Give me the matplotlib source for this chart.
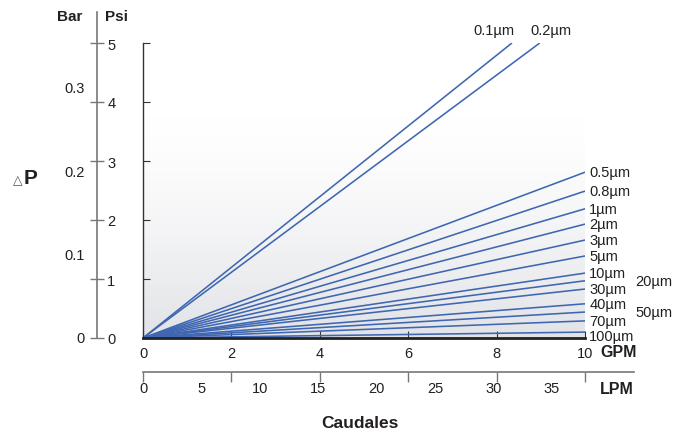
import numpy as np
import matplotlib
matplotlib.use("Agg")
import matplotlib.pyplot as plt
from matplotlib.transforms import blended_transform_factory

plt.rcParams['font.family'] = ['Liberation Sans', 'DejaVu Sans']

# pressure drop (psi) at 10 GPM for each filter rating
filters = ["0.1µm", "0.2µm", "0.5µm", "0.8µm", "1µm", "2µm", "3µm", "5µm",
           "10µm", "20µm", "30µm", "40µm", "50µm", "70µm", "100µm"]
psi_at_10gpm = [5.99, 5.57, 2.81, 2.49, 2.19, 1.93, 1.66, 1.39,
                1.10, 0.97, 0.83, 0.58, 0.44, 0.29, 0.10]

gpm_ticks = [0, 2, 4, 6, 8, 10]
psi_ticks = [0, 1, 2, 3, 4, 5]
bar_ticks = [0, 0.1, 0.2, 0.3]
lpm_ticks = [0, 5, 10, 15, 20, 25, 30, 35]

PSI_PER_BAR = 14.1  # as drawn on the original scale
LPM_PER_GPM = 3.785

W, H = 691, 435
fig = plt.figure(figsize=(W / 100, H / 100), dpi=100)

def box(x0, y0, x1, y1):
    return [x0 / W, 1 - y1 / H, (x1 - x0) / W, (y1 - y0) / H]

line_color = "#3f67b1"
text_color = "#231f20"
fs = 10.5

# main chart
ax = fig.add_axes(box(143, 44, 585, 339))
ax.set_xlim(0, 10)
ax.set_ylim(0, 5)

# soft white-to-grey background
t = np.linspace(0, 1, 512).reshape(-1, 1)
g = np.clip((t - 0.25) / 0.75, 0, 1) ** 1.4
top = np.array([1.0, 1.0, 1.0])
bot = np.array([0.885, 0.89, 0.905])
img = top + (bot - top) * g[..., None]
ax.imshow(img, extent=[0, 10, 0, 5], aspect="auto", origin="upper", zorder=0,
          interpolation="bilinear")

for name, p10 in zip(filters, psi_at_10gpm):
    slope = p10 / 10
    x_end = min(10, 5 / slope)
    y_end = slope * x_end
    ax.plot([0, x_end], [0, y_end], color=line_color, lw=1.15, zorder=2,
            solid_capstyle="butt")
    if x_end < 10:
        if name == "0.1µm":
            ax.annotate(name, (x_end, y_end), xytext=(2, 9), textcoords="offset points",
                        ha="right", va="center", fontsize=fs, color=text_color)
        else:
            ax.annotate(name, (x_end, y_end), xytext=(-7, 9), textcoords="offset points",
                        ha="left", va="center", fontsize=fs, color=text_color)
    else:
        dx = 36 if name in ("20µm", "50µm") else 3
        dy = -3 if name == "100µm" else 0
        ax.annotate(name, (x_end, y_end), xytext=(dx, dy), textcoords="offset points",
                    ha="left", va="center", fontsize=fs, color=text_color,
                    annotation_clip=False)

for s in ["top", "right"]:
    ax.spines[s].set_visible(False)
ax.spines["left"].set_color("#333333")
ax.spines["left"].set_linewidth(1.0)
ax.spines["bottom"].set_color("#222222")
ax.spines["bottom"].set_linewidth(2.0)
ax.set_xticks(gpm_ticks)
ax.set_yticks(psi_ticks, labels=[])
ax.tick_params(axis="both", direction="in", length=5, color="#333333", labelsize=fs,
               labelcolor=text_color)
ax.tick_params(axis="x", pad=6)
ax.text(1.035, -0.045, "GPM", transform=ax.transAxes, ha="left", va="center",
        fontsize=11.5, fontweight="bold", color=text_color)

# left Bar / Psi scale
axl = fig.add_axes(box(97, 13, 97.5, 339))
axl.set_ylim(0, (339 - 13) / 59)
axl.set_xlim(0, 1)
axl.patch.set_visible(False)
for s in ["top", "right", "bottom"]:
    axl.spines[s].set_visible(False)
axl.spines["left"].set_color("#777777")
axl.spines["left"].set_linewidth(1.2)
axl.set_xticks([])
axl.set_yticks(psi_ticks)
axl.tick_params(axis="y", direction="inout", length=10, color="#777777", width=1.0,
                labelleft=False, labelright=True, labelsize=fs, labelcolor=text_color, pad=2)
tr = blended_transform_factory(fig.transFigure, axl.transData)
for b in bar_ticks:
    fig.text(85 / W, b * PSI_PER_BAR, f"{b:g}", transform=tr, ha="right", va="center",
             fontsize=fs, color=text_color)
fig.text(82 / W, 1 - 17 / H, "Bar", ha="right", va="center", fontsize=11,
         fontweight="bold", color=text_color)
fig.text(105 / W, 1 - 17 / H, "Psi", ha="left", va="center", fontsize=11,
         fontweight="bold", color=text_color)
fig.text(23 / W, 1 - 184 / H, "△", ha="right", va="baseline", fontsize=9,
         color="#555555", family=["DejaVu Sans"])
fig.text(24 / W, 1 - 184 / H, "P", ha="left", va="baseline", fontsize=15,
         fontweight="bold", color=text_color)

# bottom LPM scale
axb = fig.add_axes(box(143, 372, 634, 372.5))
axb.set_xlim(0, (634 - 143) / 44.2)
axb.set_ylim(0, 1)
axb.patch.set_visible(False)
for s in ["top", "right", "left"]:
    axb.spines[s].set_visible(False)
axb.spines["bottom"].set_color("#777777")
axb.spines["bottom"].set_linewidth(1.2)
axb.set_yticks([])
axb.xaxis.remove_overlapping_locs = False
axb.set_xticks(gpm_ticks, labels=[])
axb.set_xticks([v / LPM_PER_GPM for v in lpm_ticks], labels=[str(v) for v in lpm_ticks],
               minor=True)
axb.tick_params(axis="x", which="major", direction="out", length=7, color="#777777",
                width=1.0)
axb.tick_params(axis="x", which="minor", length=0, pad=7, labelsize=fs,
                labelcolor=text_color)
lpm_tr = blended_transform_factory(axb.transAxes, fig.transFigure)
axb.text(1.0, 1 - 390 / H, "LPM", transform=lpm_tr, ha="right", va="center",
         fontsize=11.5, fontweight="bold", color=text_color)

fig.text(360 / W, 1 - 424 / H, "Caudales", ha="center", va="center", fontsize=12.5,
         fontweight="bold", color=text_color)

fig.savefig("out.png", dpi=100, facecolor="white")
